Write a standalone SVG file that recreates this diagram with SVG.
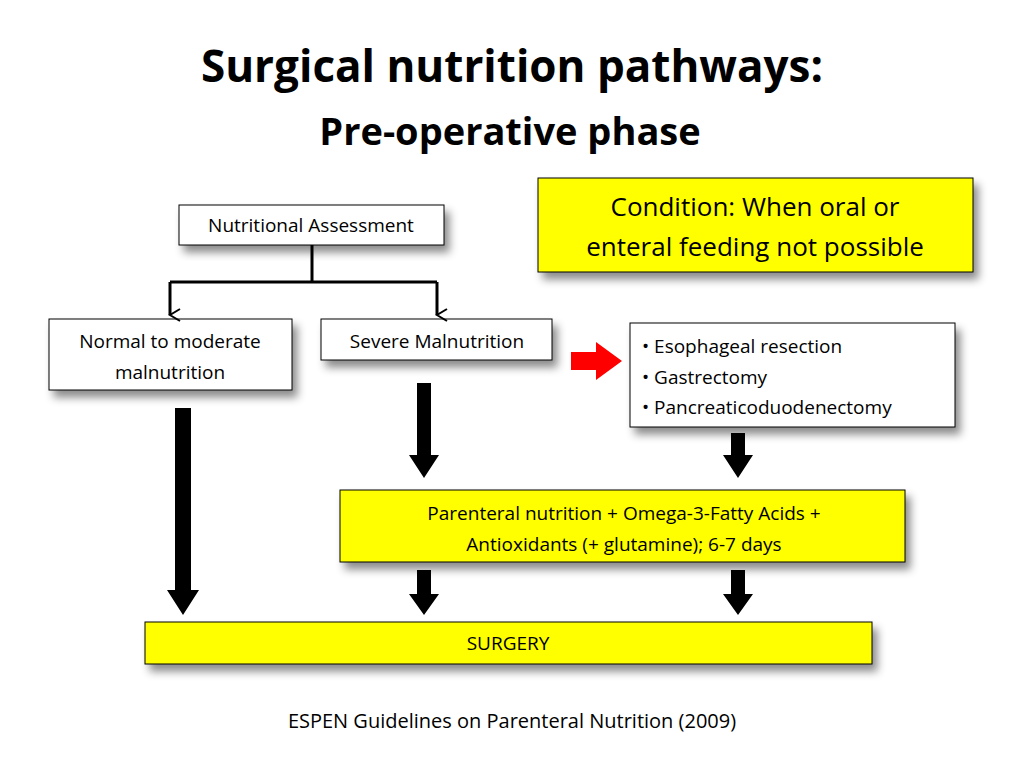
<svg xmlns="http://www.w3.org/2000/svg" width="1024" height="768" viewBox="0 0 1024 768">
<style>
text{font-family:"Open Sans","Liberation Sans",sans-serif;fill:#000}
.t{font-size:19px;text-anchor:middle}
.box{stroke:#000;stroke-width:1}
.w{fill:#fff}.y{fill:#ffff00}
</style>
<defs>
<filter id="sh" x="-10%" y="-20%" width="130%" height="160%"><feDropShadow dx="5" dy="7" stdDeviation="4" flood-color="#000" flood-opacity="0.45"/></filter>
<marker id="oa" markerWidth="14" markerHeight="14" refX="7" refY="12" orient="auto" markerUnits="userSpaceOnUse"><path d="M1,2 L7,12 L13,2" fill="none" stroke="#000" stroke-width="2"/></marker>
</defs>
<rect width="1024" height="768" fill="#fff"/>
<text x="512" y="82" style="font-size:44px;font-weight:bold;text-anchor:middle">Surgical nutrition pathways:</text>
<text x="510" y="145" style="font-size:38px;font-weight:bold;text-anchor:middle">Pre-operative phase</text>
<g id="assess"><rect class="box w" x="179" y="205" width="265" height="40" filter="url(#sh)"/><text class="t" x="311" y="232">Nutritional Assessment</text></g>
<g id="condition"><rect class="box y" x="538" y="178" width="435" height="94" filter="url(#sh)"/><text x="755" y="216" style="font-size:26px;text-anchor:middle">Condition: When oral or</text><text x="755" y="256" style="font-size:26px;text-anchor:middle">enteral  feeding not possible</text></g>
<g id="normal"><rect class="box w" x="49" y="319" width="243" height="71" filter="url(#sh)"/><text class="t" x="170" y="348">Normal to moderate</text><text class="t" x="170" y="379">malnutrition</text></g>
<g id="severe"><rect class="box w" x="321" y="319" width="231" height="41" filter="url(#sh)"/><text class="t" x="437" y="348">Severe Malnutrition</text></g>
<g id="procedures"><rect class="box w" x="630" y="323" width="325" height="104" filter="url(#sh)"/>
<text x="642" y="353" style="font-size:19px">•  Esophageal resection</text><text x="642" y="384" style="font-size:19px">•  Gastrectomy</text><text x="642" y="414" style="font-size:19px">•  Pancreaticoduodenectomy</text></g>
<g id="parenteral"><rect class="box y" x="340" y="490" width="565" height="72" filter="url(#sh)"/><text class="t" x="624" y="520">Parenteral nutrition + Omega-3-Fatty Acids +</text><text class="t" x="624" y="551">Antioxidants  (+ glutamine); 6-7 days</text></g>
<g id="surgery"><rect class="box y" x="145" y="622" width="727" height="42" filter="url(#sh)"/><text class="t" x="508" y="650">SURGERY</text></g>
<g id="connectors">
<path d="M312,245 V282 M170,282 H437" stroke="#000" stroke-width="3" fill="none"/>
<path d="M170,282 V315" stroke="#000" stroke-width="3" marker-end="url(#oa)"/>
<path d="M437,282 V315" stroke="#000" stroke-width="3" marker-end="url(#oa)"/>
<path d="M571,352 H596 V342 L622,361 L596,380 V370 H571 Z" fill="#ff0000"/>
<g fill="#000">
<path d="M175,408 H191 V590 H199 L183,615 L167,590 H175 Z"/>
<path d="M417,383 H431 V455 H439 L424,478 L409,455 H417 Z"/>
<path d="M731,433 H745 V455 H753 L738,478 L723,455 H731 Z"/>
<path d="M417,570 H431 V594 H439 L424,615 L409,594 H417 Z"/>
<path d="M731,570 H745 V594 H753 L738,615 L723,594 H731 Z"/>
</g>
</g>
<text x="512" y="728" style="font-size:20px;text-anchor:middle">ESPEN Guidelines on Parenteral Nutrition (2009)</text>
</svg>
